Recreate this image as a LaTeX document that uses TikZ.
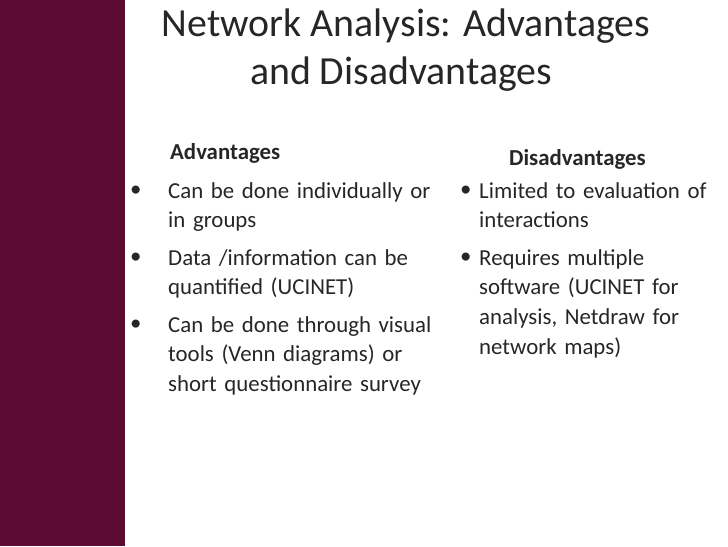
\documentclass[tikz,border=0pt]{standalone}
\usepackage{fontspec}
\setmainfont{Carlito}
\usetikzlibrary{positioning}
\definecolor{maroon}{HTML}{5E0B33}

\begin{document}
\begin{tikzpicture}[
    x=0.03cm, y=-0.03cm,
    title/.style={anchor=base, font=\fontsize{34}{41}\selectfont, text=black!85},
    header/.style={anchor=base west, font=\fontsize{19.5}{22}\selectfont\bfseries, text=black!85},
    bulletmark/.style={anchor=base west, inner sep=0pt, font=\fontsize{19.5}{25.5}\selectfont, text=black!85},
    itembox/.style={anchor=north west, inner sep=0pt, align=left, font=\fontsize{19.5}{25.5}\selectfont, text=black!85}
]
% page and side bar
\useasboundingbox (0,0) rectangle (728,546);
\fill[maroon] (0,0) rectangle (125,546);

% title
\node[title] (t1) at (406,36) {Network Analysis: Advantages};
\node[title] (t2) at (401,84) {and Disadvantages};

% column headers
\node[header] (adv) at (166,159) {Advantages};
\node[header] (dis) at (505,165) {Disadvantages};

% left column
\foreach \y/\txt [count=\i] in {
    199/{Can be done individually or\\in groups},
    266/{Data /information can be\\quantified (UCINET)},
    333/{Can be done through visual\\tools (Venn diagrams) or\\short questionnaire survey}} {
  \node[bulletmark] (lb\i) at (130,\y-3) {•};
  \node[itembox, text width=9.5cm] (li\i) at (168,\y-17) {\txt};
}

% right column
\foreach \y/\txt [count=\i] in {
    199/{Limited to evaluation of\\interactions},
    266/{Requires multiple\\software (UCINET for\\analysis, Netdraw for\\network maps)}} {
  \node[bulletmark] (rb\i) at (460,\y-3) {•};
  \node[itembox, text width=8.5cm] (ri\i) at (479,\y-17) {\txt};
}
\end{tikzpicture}
\end{document}
